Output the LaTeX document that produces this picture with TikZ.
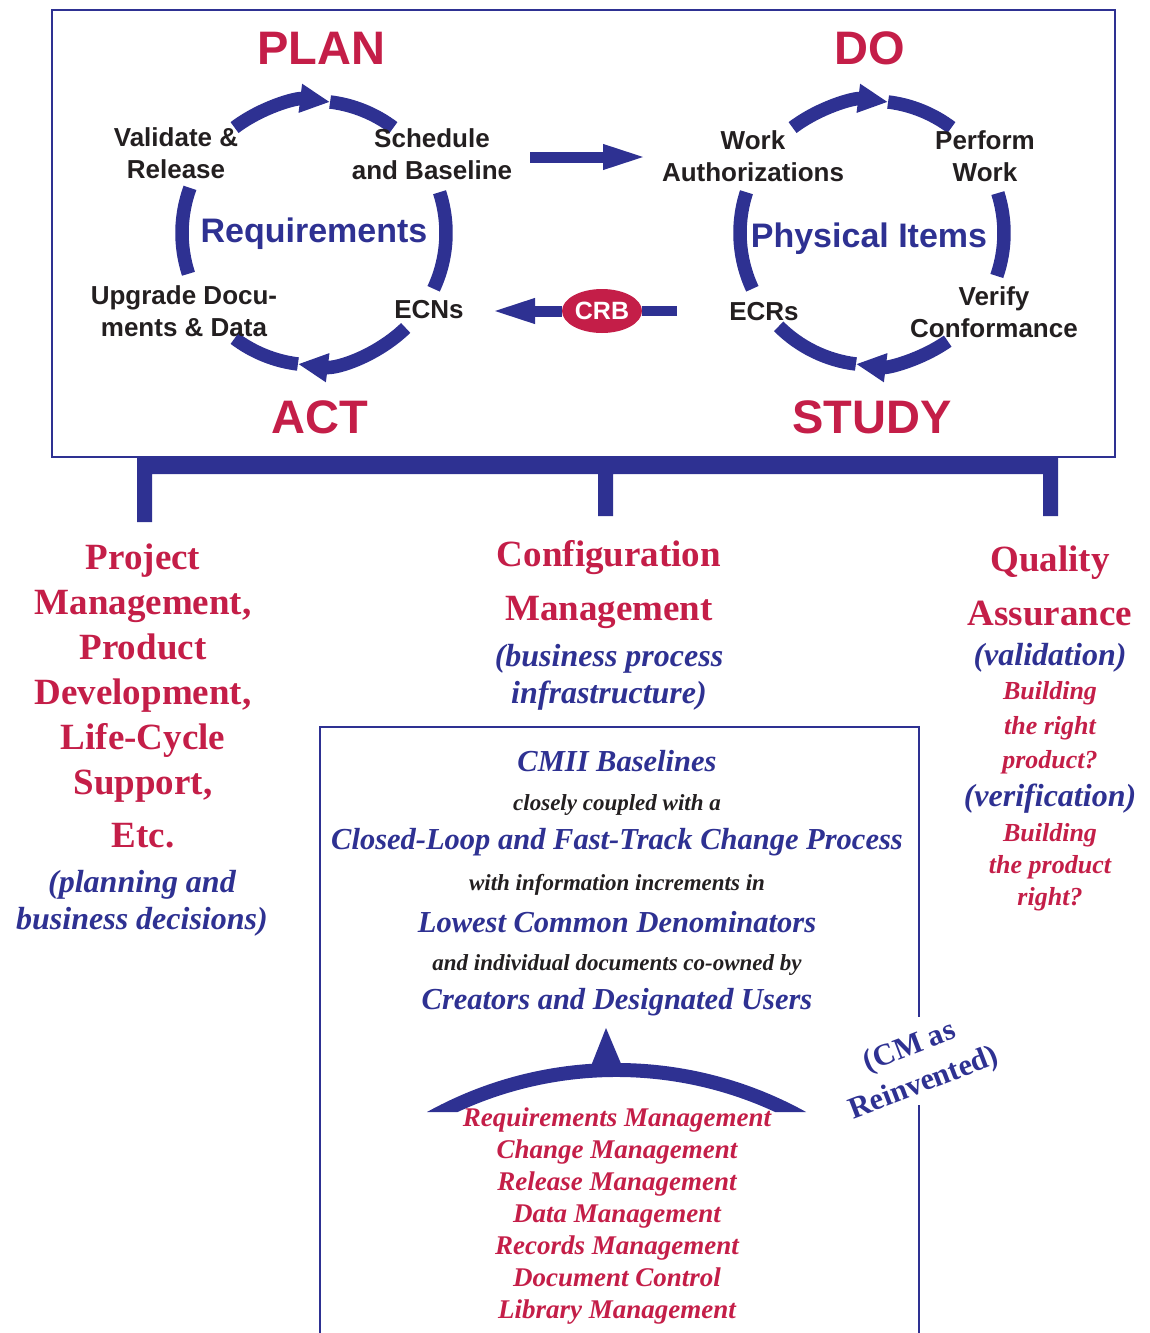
\documentclass[tikz,border=0pt]{standalone}
\usepackage{fontspec}
\setmainfont{Liberation Serif}
\newfontfamily\arialf{Liberation Sans}
\usetikzlibrary{arrows.meta,shapes.geometric}
\definecolor{cblue}{RGB}{46,49,146}
\definecolor{cred}{RGB}{196,30,72}
\definecolor{ink}{RGB}{35,31,32}
\begin{document}
\begin{tikzpicture}[x=1pt,y=1pt,
  ring/.style={draw=cblue,line width=13.5pt},
  ringtip/.style={-{Triangle[length=30pt,width=27pt]}},
  fat/.style={draw=cblue,line width=11pt,-{Triangle[length=46pt,width=22pt]}},
  phase/.style={font=\arialf\bfseries\fontsize{47}{50}\selectfont,text=cred,inner sep=0pt},
  lbl/.style={font=\arialf\bfseries\fontsize{26}{31.5}\selectfont,text=ink,align=center,inner sep=0pt},
  core/.style={font=\arialf\bfseries\fontsize{34}{40}\selectfont,text=cblue,inner sep=0pt},
  head/.style={font=\bfseries\fontsize{37}{45}\selectfont,text=cred,align=center,inner sep=0pt},
  note/.style={font=\bfseries\itshape\fontsize{32}{37}\selectfont,text=cblue,align=center,inner sep=0pt},
  qnote/.style={font=\bfseries\itshape\fontsize{26}{32}\selectfont,text=cred,align=center,inner sep=0pt},
  bbig/.style={font=\bfseries\itshape\fontsize{30.5}{36}\selectfont,text=cblue,inner sep=0pt},
  bsmall/.style={font=\bfseries\itshape\fontsize{23}{28}\selectfont,text=ink,inner sep=0pt},
  rlist/.style={font=\bfseries\itshape\fontsize{27}{32}\selectfont,text=cred,align=center,inner sep=0pt}
]
\useasboundingbox (0,0) rectangle (1149,-1333);

% outer frame
\draw[cblue,line width=2pt] (52,-10) rectangle (1115,-457);

% ---- left cycle (PLAN / ACT) ----
\coordinate (L) at (314,-233);
\draw[ring,ringtip] (L) ++(127:132) arc[start angle=127,end angle=83,radius=132];
\draw[ring] (L) ++(83:132) arc[start angle=83,end angle=53,radius=132];
\draw[ring] (L) ++(18:132) arc[start angle=18,end angle=-25,radius=132];
\draw[ring,ringtip] (L) ++(-46:132) arc[start angle=-46,end angle=-97,radius=132];
\draw[ring] (L) ++(-97:132) arc[start angle=-97,end angle=-127,radius=132];
\draw[ring] (L) ++(160:132) arc[start angle=160,end angle=198,radius=132];

% ---- right cycle (DO / STUDY) ----
\coordinate (R) at (872,-233);
\draw[ring,ringtip] (R) ++(127:132) arc[start angle=127,end angle=83,radius=132];
\draw[ring] (R) ++(83:132) arc[start angle=83,end angle=53,radius=132];
\draw[ring] (R) ++(17.6:132) arc[start angle=17.6,end angle=-19,radius=132];
\draw[ring,ringtip] (R) ++(-55:132) arc[start angle=-55,end angle=-97,radius=132];
\draw[ring] (R) ++(-97:132) arc[start angle=-97,end angle=-135,radius=132];
\draw[ring] (R) ++(162:132) arc[start angle=162,end angle=205,radius=132];

% phase titles
\node[phase] (plan) at (321,-48) {PLAN};
\node[phase] (do) at (870,-48) {DO};
\node[phase] (act) at (320,-417) {ACT};
\node[phase] (study) at (872,-417) {STUDY};

% cycle labels
\node[lbl] (valid) at (176,-153) {Validate \&\\Release};
\node[lbl] (sched) at (432,-154) {Schedule\\and Baseline};
\node[lbl] (upgr) at (184,-311) {Upgrade Docu-\\ments \& Data};
\node[lbl] (ecn) at (429,-310) {ECNs};
\node[lbl] (wauth) at (753,-156) {Work\\Authorizations};
\node[lbl] (perf) at (985,-156) {Perform\\Work};
\node[lbl] (ecr) at (764,-312) {ECRs};
\node[lbl] (verif) at (994,-312) {Verify\\Conformance};
\node[core] (req) at (314,-234) {Requirements};
\node[core] (phys) at (869,-239) {Physical Items};

% arrow between cycles
\coordinate (a1) at (530,-157);
\coordinate (a2) at (649,-157);
\draw[fat] (a1) -- (a2);

% CRB arrow
\node[ellipse,fill=cred,minimum width=80pt,minimum height=44pt,inner sep=0pt,
      text=white,font=\arialf\bfseries\fontsize{25}{30}\selectfont] (crb) at (602,-311) {CRB};
\coordinate (c1) at (677,-311);
\coordinate (c2) at (489,-311);
\draw[cblue,line width=10pt] (c1) -- (crb.east);
\draw[fat] (crb.west) -- (c2);

% connector bar with three legs
\fill[cblue] (137,-458) -- (1058,-458) -- (1058,-516) -- (1043,-516) -- (1043,-474)
  -- (613,-474) -- (613,-516) -- (598,-516) -- (598,-474) -- (152,-474)
  -- (152,-522) -- (137,-522) -- cycle;

% left column
\node[head] (pm) at (143,-673) {Project\\Management,\\Product\\Development,\\Life-Cycle\\Support,};
\node[head] (etc) at (143,-836) {Etc.};
\node[note] (plann) at (142,-903) {(planning and\\business decisions)};

% middle column
\node[head,font=\bfseries\fontsize{37}{54}\selectfont] (cm) at (609,-585) {Configuration\\Management};
\node[note] (bpi) at (609,-677) {(business process\\infrastructure)};

% right column
\node[head,font=\bfseries\fontsize{37}{54}\selectfont] (qa) at (1050,-586) {Quality\\Assurance};
\node[note] (valn) at (1050,-658) {(validation)};
\node[qnote,font=\bfseries\itshape\fontsize{26}{34.5}\selectfont] (bq1) at (1050,-728) {Building\\the right\\product?};
\node[note] (vern) at (1050,-799) {(verification)};
\node[qnote] (bq2) at (1050,-867) {Building\\the product\\right?};

% central box
\draw[cblue,line width=1.2pt] (320,-1333) -- (320,-727) -- (919,-727) -- (919,-1017);
\draw[cblue,line width=1.2pt] (919,-1105) -- (919,-1333);

\node[bbig] (b1) at (617,-761) {CMII Baselines};
\node[bsmall] (b2) at (617,-805) {closely coupled with a};
\node[bbig] (b3) at (617,-842) {Closed-Loop and Fast-Track Change Process};
\node[bsmall] (b4) at (617,-885) {with information increments in};
\node[bbig] (b5) at (617,-922) {Lowest Common Denominators};
\node[bsmall] (b6) at (617,-965) {and individual documents co-owned by};
\node[bbig] (b7) at (617,-1002) {Creators and Designated Users};

% arch with upward pointer
\fill[cblue] (427,-1112) arc[start angle=119,end angle=61,radius=391]
  -- (775.1,-1112) arc[start angle=65.1,end angle=114.9,radius=377] -- cycle;
\fill[cblue] (606,-1028) -- (622,-1066) -- (591,-1066) -- cycle;

\node[rlist] (list) at (617,-1216) {Requirements Management\\Change Management\\Release Management\\Data Management\\Records Management\\Document Control\\Library Management};

% rotated remark
\node[font=\bfseries\fontsize{30.5}{39}\selectfont,text=cblue,align=center,inner sep=0pt,rotate=21] (reinv) at (917,-1066) {(CM as\\Reinvented)};
\end{tikzpicture}
\end{document}
